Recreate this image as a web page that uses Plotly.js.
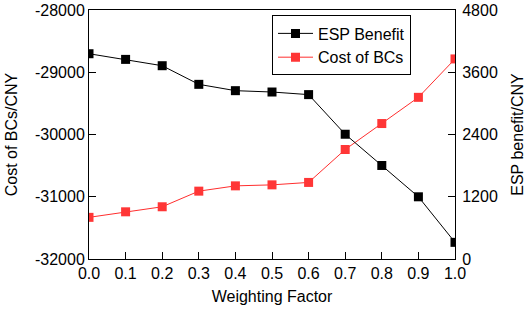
<!DOCTYPE html>
<html>
<head>
<meta charset="utf-8">
<script src="https://cdn.plot.ly/plotly-3.0.1.min.js"></script>
<style>
html,body{margin:0;padding:0;background:#fff;}
#chart{width:526px;height:311px;}
</style>
</head>
<body>
<div id="chart"></div>
<script>
const weightingFactor = [0.0, 0.1, 0.2, 0.3, 0.4, 0.5, 0.6, 0.7, 0.8, 0.9, 1.0];
const espBenefit = [3957, 3848, 3726, 3367, 3245, 3219, 3169, 2405, 1803, 1199, 321];
const costOfBCs = [-31331, -31242, -31161, -30910, -30825, -30809, -30770, -30241, -29824, -29403, -28786];
const xTicks = [0, 0.1, 0.2, 0.3, 0.4, 0.5, 0.6, 0.7, 0.8, 0.9, 1.0];
const xTickLabels = ['0.0','0.1','0.2','0.3','0.4','0.5','0.6','0.7','0.8','0.9','1.0'];
const leftTicks = [-32000, -31000, -30000, -29000, -28000];
const leftTickLabels = ['-32000', '-31000', '-30000', '-29000', '-28000'];
const rightTicks = [0, 1200, 2400, 3600, 4800];
const rightTickLabels = ['0', '1200', '2400', '3600', '4800'];

const font = {family: 'Liberation Sans, Arial, sans-serif', size: 16, color: '#000'};

const traces = [
  {
    x: weightingFactor, y: espBenefit, name: 'ESP Benefit', yaxis: 'y2',
    type: 'scatter', mode: 'lines+markers',
    line: {color: '#000000', width: 1},
    marker: {symbol: 'square', size: 9, color: '#000000'}
  },
  {
    x: weightingFactor, y: costOfBCs, name: 'Cost of BCs', yaxis: 'y',
    type: 'scatter', mode: 'lines+markers',
    line: {color: '#ff2e2e', width: 1},
    marker: {symbol: 'square', size: 9, color: '#ff3636'}
  }
];

const layout = {
  width: 526, height: 311,
  margin: {l: 89, r: 71, t: 10, b: 52},
  paper_bgcolor: '#fff', plot_bgcolor: '#fff',
  font: font,
  showlegend: true,
  legend: {
    x: 0.5, y: 0.978, xanchor: 'left', yanchor: 'top',
    bgcolor: '#fff', bordercolor: '#000', borderwidth: 1,
    font: font, traceorder: 'normal', tracegroupgap: 0,
    itemwidth: 35
  },
  xaxis: {
    range: [0, 1], tickvals: xTicks, ticktext: xTickLabels,
    ticks: 'inside', ticklen: 7, tickcolor: '#000', tickwidth: 1,
    showline: true, linecolor: '#000', linewidth: 1, mirror: true,
    showgrid: false, zeroline: false,
    title: {text: 'Weighting Factor', font: font, standoff: 9},
    tickfont: font
  },
  yaxis: {
    range: [-32000, -28000], tickvals: leftTicks, ticktext: leftTickLabels,
    ticks: 'inside', ticklen: 7, tickcolor: '#000',
    showline: true, linecolor: '#000', linewidth: 1,
    showgrid: false, zeroline: false,
    title: {text: 'Cost of BCs/CNY', font: font, standoff: 13},
    tickfont: font
  },
  yaxis2: {
    range: [0, 4800], tickvals: rightTicks, ticktext: rightTickLabels,
    overlaying: 'y', side: 'right',
    ticks: 'inside', ticklen: 7, tickcolor: '#000',
    showline: true, linecolor: '#000', linewidth: 1,
    showgrid: false, zeroline: false, ticklabelstandoff: 3,
    title: {text: 'ESP benefit/CNY', font: font, standoff: 14},
    tickfont: font
  }
};

Plotly.newPlot('chart', traces, layout, {displayModeBar: false, staticPlot: true});
</script>
</body>
</html>
